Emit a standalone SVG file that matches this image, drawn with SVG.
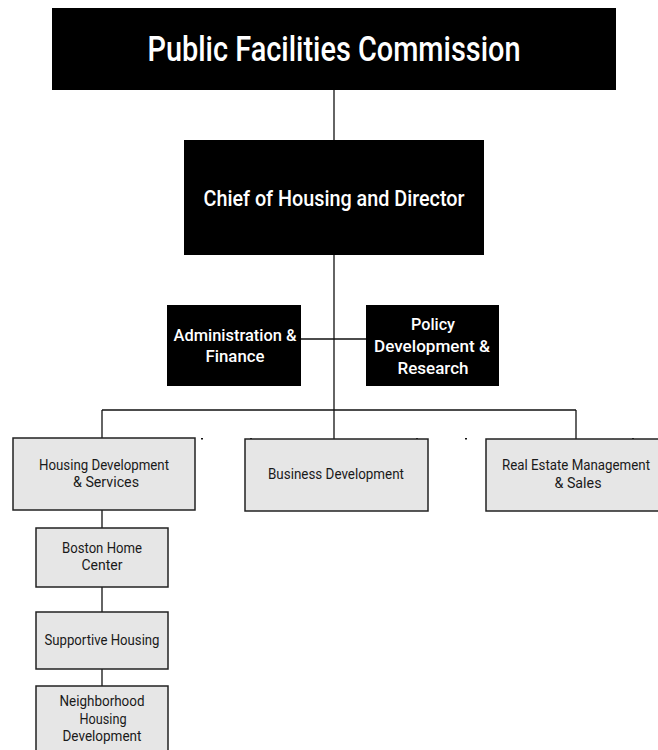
<svg xmlns="http://www.w3.org/2000/svg" width="658" height="750" viewBox="0 0 658 750">
  <style>
    .dark rect { fill: #000; }
    .dark text { fill: #fff; font-family: Roboto, "Liberation Sans", Arial, sans-serif; font-weight: 500; text-anchor: middle; }
    .light rect { fill: #e6e6e6; stroke: #222; stroke-width: 1.5; }
    .light text { fill: #1a1a1a; font-family: Roboto, "Liberation Sans", Arial, sans-serif; font-size: 14px; text-anchor: middle; }
    #connectors line { stroke: #111; stroke-width: 1.3; }
    .tick { fill: #111; }
  </style>
  <rect width="658" height="750" fill="#fff"/>

  <!-- connectors -->
  <g id="connectors">
    <line x1="334" y1="90" x2="334" y2="140"/>
    <line x1="334" y1="255" x2="334" y2="410"/>
    <line x1="301" y1="339" x2="366" y2="339"/>
    <line x1="102" y1="410" x2="576" y2="410"/>
    <line x1="102" y1="410" x2="102" y2="438"/>
    <line x1="334" y1="410" x2="334" y2="439"/>
    <line x1="576" y1="410" x2="576" y2="439"/>
    <line x1="102" y1="510" x2="102" y2="528"/>
    <line x1="102" y1="587" x2="102" y2="612"/>
    <line x1="102" y1="669" x2="102" y2="686"/>
  </g>

  <!-- stray marks near the second row -->
  <rect class="tick" x="201" y="438" width="2" height="1.5"/>
  <rect class="tick" x="250" y="438" width="2" height="1.5"/>
  <rect class="tick" x="416" y="438" width="2" height="1.5"/>
  <rect class="tick" x="465" y="438" width="2" height="1.5"/>
  <rect class="tick" x="632" y="438" width="2" height="1.5"/>

  <g id="public-facilities-commission" class="dark">
    <rect x="52" y="8" width="564" height="82"/>
    <text x="334" y="61" font-size="35" textLength="373" lengthAdjust="spacingAndGlyphs">Public Facilities Commission</text>
  </g>

  <g id="chief-of-housing" class="dark">
    <rect x="184" y="140" width="300" height="115"/>
    <text x="334" y="206" font-size="22" textLength="261" lengthAdjust="spacingAndGlyphs">Chief of Housing and Director</text>
  </g>

  <g id="administration-finance" class="dark">
    <rect x="167" y="305" width="134" height="81"/>
    <text x="235" y="341" font-size="17" textLength="123" lengthAdjust="spacingAndGlyphs">Administration &amp;</text>
    <text x="235" y="362" font-size="17" textLength="59" lengthAdjust="spacingAndGlyphs">Finance</text>
  </g>

  <g id="policy-development" class="dark">
    <rect x="366" y="305" width="133" height="81"/>
    <text x="433" y="330" font-size="17" textLength="44" lengthAdjust="spacingAndGlyphs">Policy</text>
    <text x="432" y="352" font-size="17" textLength="116" lengthAdjust="spacingAndGlyphs">Development &amp;</text>
    <text x="433" y="374" font-size="17" textLength="71" lengthAdjust="spacingAndGlyphs">Research</text>
  </g>

  <g id="housing-development-services" class="light">
    <rect x="13" y="438" width="182" height="72"/>
    <text x="104" y="470" textLength="130" lengthAdjust="spacingAndGlyphs">Housing Development</text>
    <text x="106" y="487" textLength="66" lengthAdjust="spacingAndGlyphs">&amp; Services</text>
  </g>

  <g id="business-development" class="light">
    <rect x="245" y="439" width="183" height="72"/>
    <text x="336" y="479" textLength="136" lengthAdjust="spacingAndGlyphs">Business Development</text>
  </g>

  <g id="real-estate-management" class="light">
    <rect x="486" y="439" width="175" height="72"/>
    <text x="576" y="470" textLength="148" lengthAdjust="spacingAndGlyphs">Real Estate Management</text>
    <text x="578" y="488" textLength="47" lengthAdjust="spacingAndGlyphs">&amp; Sales</text>
  </g>

  <g id="boston-home-center" class="light">
    <rect x="36" y="528" width="132" height="59"/>
    <text x="102" y="553" textLength="80" lengthAdjust="spacingAndGlyphs">Boston Home</text>
    <text x="102" y="570" textLength="41" lengthAdjust="spacingAndGlyphs">Center</text>
  </g>

  <g id="supportive-housing" class="light">
    <rect x="36" y="612" width="132" height="57"/>
    <text x="102" y="645" textLength="115" lengthAdjust="spacingAndGlyphs">Supportive Housing</text>
  </g>

  <g id="neighborhood-housing-development" class="light">
    <rect x="36" y="686" width="132" height="70"/>
    <text x="102" y="706" textLength="85" lengthAdjust="spacingAndGlyphs">Neighborhood</text>
    <text x="103" y="724" textLength="47" lengthAdjust="spacingAndGlyphs">Housing</text>
    <text x="102" y="741" textLength="79" lengthAdjust="spacingAndGlyphs">Development</text>
  </g>
</svg>
